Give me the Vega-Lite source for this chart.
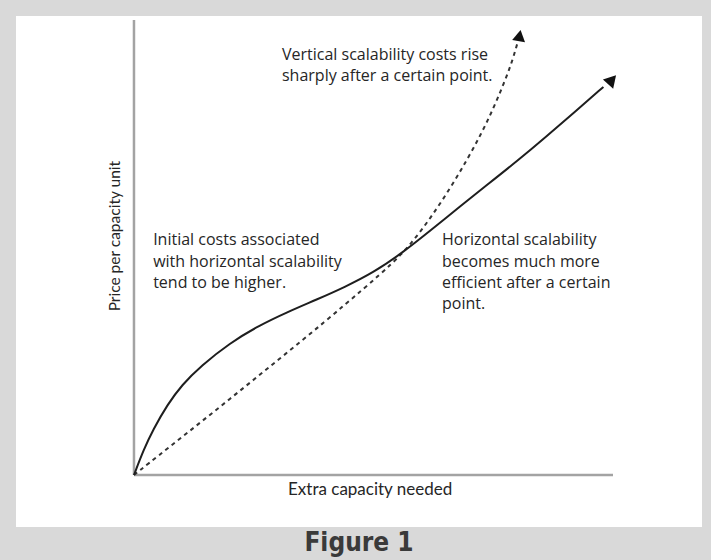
{
  "$schema": "https://vega.github.io/schema/vega-lite/v6.json",
  "width": 686,
  "height": 511,
  "autosize": "none",
  "padding": {"left": 16, "top": 16, "right": 9, "bottom": 33},
  "background": "#d9d9d9",
  "config": {"view": {"fill": "white", "stroke": null}},
  "title": {"text": "Figure 1", "orient": "bottom", "anchor": "middle", "baseline": "top", "offset": 3, "font": "DejaVu Sans Condensed", "fontWeight": "bold", "fontSize": 26, "color": "#3a3a3a"},
  "datasets": {
    "solid": [
      {"x": 0, "y": 0}, {"x": 2, "y": 5.5}, {"x": 4, "y": 10}, {"x": 7, "y": 15.5}, {"x": 10, "y": 19.8},
      {"x": 14, "y": 24}, {"x": 20, "y": 29}, {"x": 26, "y": 32.8}, {"x": 32, "y": 35.8}, {"x": 38, "y": 38.5},
      {"x": 44, "y": 41.3}, {"x": 50, "y": 44.5}, {"x": 56, "y": 48.8}, {"x": 62, "y": 53.8}, {"x": 68, "y": 59},
      {"x": 74, "y": 64}, {"x": 80, "y": 69}, {"x": 86, "y": 74.3}, {"x": 92, "y": 79.8}, {"x": 98, "y": 85.3}
    ],
    "dashed": [
      {"x": 0, "y": 0}, {"x": 10, "y": 8.3}, {"x": 20, "y": 16.7}, {"x": 30, "y": 25.2}, {"x": 40, "y": 33.8},
      {"x": 48, "y": 41}, {"x": 54, "y": 46.5}, {"x": 58, "y": 51}, {"x": 62, "y": 56.6}, {"x": 66, "y": 63},
      {"x": 69.5, "y": 69.2}, {"x": 72.5, "y": 75}, {"x": 75, "y": 80.5}, {"x": 77.2, "y": 86}, {"x": 79, "y": 91},
      {"x": 80.2, "y": 95.5}
    ],
    "arrows": [
      {"series": "horizontal", "x": 99.8, "y": 86.9},
      {"series": "vertical", "x": 80.5, "y": 96.6}
    ],
    "axes": [
      {"x": 0, "y": 0, "x2": 100, "y2": 0},
      {"x": 0, "y": 0, "x2": 0, "y2": 100}
    ],
    "notes": [
      {"text": "Vertical scalability costs rise", "x": 30.9, "y": 92.3},
      {"text": "sharply after a certain point.", "x": 30.9, "y": 87.6},
      {"text": "Initial costs associated", "x": 4.0, "y": 51.6},
      {"text": "with horizontal scalability", "x": 4.0, "y": 46.9},
      {"text": "tend to be higher.", "x": 4.0, "y": 42.2},
      {"text": "Horizontal scalability", "x": 64.3, "y": 51.6},
      {"text": "becomes much more", "x": 64.3, "y": 46.9},
      {"text": "efficient after a certain", "x": 64.3, "y": 42.2},
      {"text": "point.", "x": 64.3, "y": 37.5}
    ],
    "xtitle": [{"text": "Extra capacity needed", "x": 49.3, "y": -3.4}],
    "ytitle": [{"text": "Price per capacity unit", "x": -4.0, "y": 52.5}]
  },
  "encoding": {
    "x": {"field": "x", "type": "quantitative", "scale": {"domain": [-24.63, 118.58], "nice": false, "zero": false}, "axis": null},
    "y": {"field": "y", "type": "quantitative", "scale": {"domain": [-11.43, 100.88], "nice": false, "zero": false}, "axis": null}
  },
  "layer": [
    {
      "data": {"name": "axes"},
      "mark": {"type": "rule", "color": "#a3a3a3", "strokeWidth": 2.5},
      "encoding": {"x2": {"field": "x2"}, "y2": {"field": "y2"}}
    },
    {
      "data": {"name": "dashed"},
      "mark": {"type": "line", "interpolate": "basis", "color": "#333333", "strokeWidth": 2, "strokeDash": [4, 4]},
      "encoding": {}
    },
    {
      "data": {"name": "solid"},
      "mark": {"type": "line", "interpolate": "basis", "color": "#1e1e1e", "strokeWidth": 2},
      "encoding": {}
    },
    {
      "data": {"name": "arrows"},
      "transform": [{"filter": "datum.series === 'horizontal'"}],
      "mark": {"type": "point", "shape": "triangle-up", "filled": true, "color": "#111111", "opacity": 1, "size": 190, "angle": 42}
    },
    {
      "data": {"name": "arrows"},
      "transform": [{"filter": "datum.series === 'vertical'"}],
      "mark": {"type": "point", "shape": "triangle-up", "filled": true, "color": "#111111", "opacity": 1, "size": 170, "angle": 10}
    },
    {
      "data": {"name": "notes"},
      "mark": {"type": "text", "align": "left", "baseline": "middle", "font": "Open Sans", "fontSize": 16, "color": "#262626"},
      "encoding": {"text": {"field": "text"}}
    },
    {
      "data": {"name": "xtitle"},
      "mark": {"type": "text", "align": "center", "baseline": "middle", "font": "Lato", "fontSize": 17, "color": "#262626"},
      "encoding": {"text": {"field": "text"}}
    },
    {
      "data": {"name": "ytitle"},
      "mark": {"type": "text", "align": "center", "baseline": "middle", "angle": 270, "font": "Lato", "fontSize": 15.5, "color": "#262626"},
      "encoding": {"text": {"field": "text"}}
    }
  ]
}
